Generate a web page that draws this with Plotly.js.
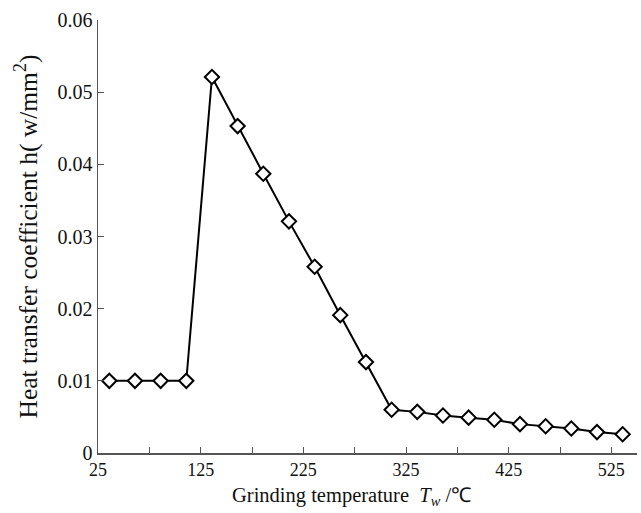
<!DOCTYPE html>
<html>
<head>
<meta charset="utf-8">
<script src="https://cdn.plot.ly/plotly-3.0.1.min.js"></script>
<style>
html,body{margin:0;padding:0;background:#fff;}
#chart{width:641px;height:513px;}
</style>
</head>
<body>
<div id="chart"></div>
<script>
const temperature = [36, 61, 86, 111, 136, 161, 186, 211, 236, 261, 286, 311, 336, 361, 386, 411, 436, 461, 486, 511, 536];
const heatCoeff = [0.0100, 0.0100, 0.0100, 0.0100, 0.0521, 0.0453, 0.0387, 0.0321, 0.0258, 0.0191, 0.0126, 0.0060, 0.0057, 0.0052, 0.0049, 0.0046, 0.0040, 0.0037, 0.0034, 0.0029, 0.0026];
const xTickVals = [25, 125, 225, 325, 425, 525];
const xTickText = ['25', '125', '225', '325', '425', '525'];
const xMinorVals = [75, 175, 275, 375, 475];
const yTickVals = [0, 0.01, 0.02, 0.03, 0.04, 0.05, 0.06];
const yTickText = ['0', '0.01', '0.02', '0.03', '0.04', '0.05', '0.06'];
const xTitle = 'Grinding temperature  <i>T<sub>w</sub></i> /℃';
const yTitle = 'Heat transfer coefficient h( w/mm<sup>2</sup>)';

const trace = {
  x: temperature,
  y: heatCoeff,
  mode: 'lines+markers',
  type: 'scatter',
  line: {color: '#000', width: 2},
  marker: {symbol: 'diamond', size: 11, color: '#fff', line: {color: '#000', width: 2}},
  showlegend: false
};

const fam = 'Liberation Serif';

const layout = {
  width: 641, height: 513,
  margin: {l: 98, r: 4, t: 20, b: 60},
  paper_bgcolor: '#fff', plot_bgcolor: '#fff',
  font: {family: fam, size: 18, color: '#111'},
  xaxis: {
    range: [25, 550],
    tickmode: 'array', tickvals: xTickVals, ticktext: xTickText,
    ticks: 'inside', ticklen: 6, tickcolor: '#555', tickwidth: 1,
    minor: {tickmode: 'array', tickvals: xMinorVals, ticks: 'inside', ticklen: 6, tickcolor: '#555', tickwidth: 1, showgrid: false},
    showline: true, linecolor: '#555', linewidth: 1.5,
    showgrid: false, zeroline: false,
    tickfont: {family: fam, size: 18, color: '#111'}
  },
  yaxis: {
    range: [0, 0.06],
    tickmode: 'array', tickvals: yTickVals, ticktext: yTickText,
    ticks: 'inside', ticklen: 6, tickcolor: '#555', tickwidth: 1,
    showline: true, linecolor: '#555', linewidth: 1.5,
    showgrid: false, zeroline: false,
    tickfont: {family: fam, size: 20, color: '#111'}
  },
  annotations: [
    {text: xTitle, xref: 'paper', yref: 'paper', x: 0.471, y: -0.1016, xanchor: 'center', yanchor: 'middle',
     showarrow: false, font: {family: fam, size: 20.5, color: '#111'}},
    {text: yTitle, xref: 'paper', yref: 'paper', x: -0.1317, y: 0.5, xanchor: 'center', yanchor: 'middle',
     textangle: -90, showarrow: false, font: {family: fam, size: 25.5, color: '#111'}}
  ]
};

Plotly.newPlot('chart', [trace], layout, {displayModeBar: false, staticPlot: true});
</script>
</body>
</html>
